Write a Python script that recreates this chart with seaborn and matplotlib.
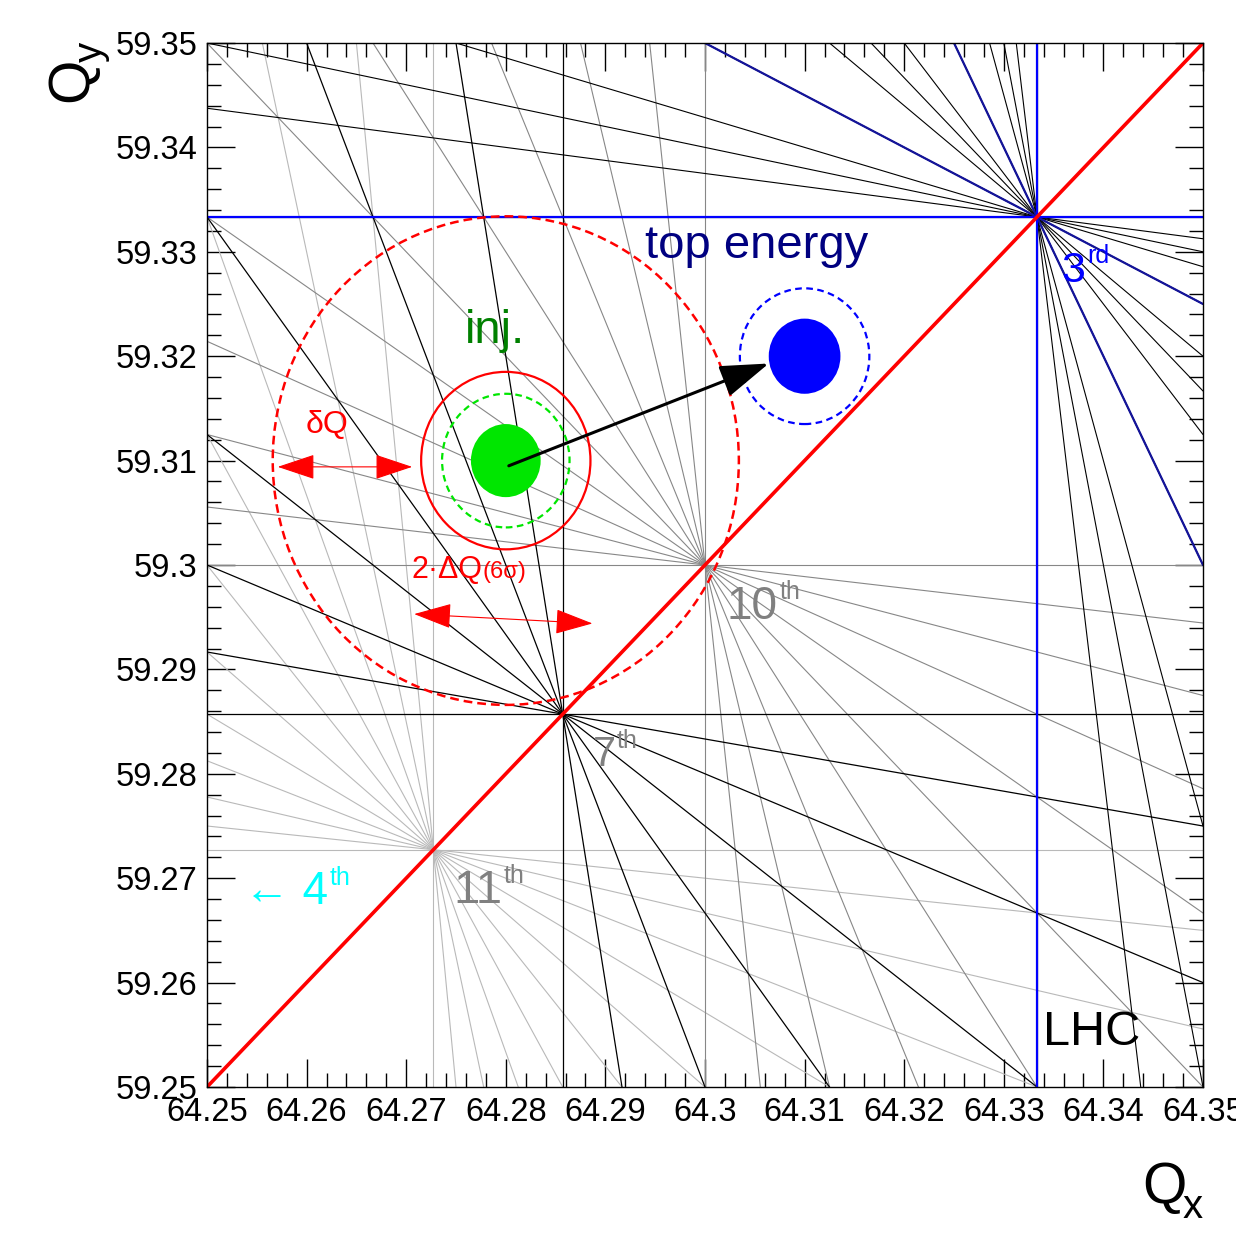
import numpy as np
import pandas as pd
import matplotlib
matplotlib.use('Agg')
import matplotlib.pyplot as plt
import seaborn as sns
from matplotlib.patches import Circle
from matplotlib.ticker import MultipleLocator, FuncFormatter

# tune window (LHC, integer parts 64 / 59)
qx_lim = (64.25, 64.35)
qy_lim = (59.25, 59.35)

# sum resonances m*Qx + n*Qy = p drawn in this window, faint orders first
orders = [11, 10, 9, 7, 6, 3]
order_colors = {11: '#b9b9b9', 10: '#878787', 9: 'black', 7: 'black', 6: 'black', 3: '#14149a'}
order_lw = {11: 0.8, 10: 0.8, 9: 0.8, 7: 0.9, 6: 0.8, 3: 1.6}

# coupling resonance Qx - Qy = 5
coupling = (1, -1, 5)

# working points: injection and top energy
wp_qx = [64.28, 64.31]
wp_qy = [59.31, 59.32]
core_r = [0.0035, 0.0036]
halo_r = [0.0064, 0.0065]
wp_colors = ['#00e600', '#0000ff']
footprint_r = 0.0085   # 2*dQ(6 sigma) footprint around injection
dq_r = 0.0234          # dQ dashed circle

sns.set_theme(style='ticks')
plt.rcParams['font.family'] = ['Liberation Sans', 'DejaVu Sans']
plt.rcParams['axes.linewidth'] = 1.0
plt.rcParams['text.color'] = 'black'
plt.rcParams['xtick.labelcolor'] = 'black'
plt.rcParams['ytick.labelcolor'] = 'black'

# build resonance line segments
rows = []
lid = 0
for N in orders:
    for m in range(N + 1):
        n = N - m
        corners = [m * x + n * y for x in qx_lim for y in qy_lim]
        for p in range(int(np.ceil(min(corners))), int(np.floor(max(corners))) + 1):
            if n == 0:
                xs, ys = [p / m, p / m], list(qy_lim)
            else:
                xs = list(qx_lim)
                ys = [(p - m * x) / n for x in qx_lim]
            kind = 'hv' if (m == 0 or n == 0) else 'slope'
            for x, y in zip(xs, ys):
                rows.append((N, kind, lid, x, y))
            lid += 1
lines = pd.DataFrame(rows, columns=['order', 'kind', 'line', 'Qx', 'Qy'])

fig = plt.figure(figsize=(12.36, 12.34), dpi=100)
ax = fig.add_axes([207 / 1236, 1 - 1087 / 1234, 996 / 1236, 1044 / 1234])

for N in orders:
    sub = lines[lines['order'] == N]
    if N == 3:
        sns.lineplot(data=sub[sub['kind'] == 'slope'], x='Qx', y='Qy', units='line',
                     estimator=None, sort=False, color=order_colors[3], lw=order_lw[3],
                     ax=ax, legend=False)
        sns.lineplot(data=sub[sub['kind'] == 'hv'], x='Qx', y='Qy', units='line',
                     estimator=None, sort=False, color='#0000ff', lw=1.6,
                     ax=ax, legend=False, zorder=3)
    else:
        sns.lineplot(data=sub, x='Qx', y='Qy', units='line', estimator=None, sort=False,
                     color=order_colors[N], lw=order_lw[N], ax=ax, legend=False)

# coupling line
cm, cn, cp = coupling
cx = np.array(qx_lim)
ax.plot(cx, (cm * cx - cp) / (-cn), color='red', lw=2.6, zorder=4)

# working point circles
for x, y, r1, r2, c in zip(wp_qx, wp_qy, core_r, halo_r, wp_colors):
    ax.add_patch(Circle((x, y), r1, color=c, lw=0, zorder=5))
    ax.add_patch(Circle((x, y), r2, fill=False, ec=c, lw=1.6, ls=(0, (3, 2)), zorder=5))
ax.add_patch(Circle((wp_qx[0], wp_qy[0]), footprint_r, fill=False, ec='red', lw=1.6, zorder=5))
ax.add_patch(Circle((wp_qx[0], wp_qy[0]), dq_r, fill=False, ec='red', lw=1.8,
                    ls=(0, (3.5, 2)), zorder=5))

# injection -> top energy arrow
ax.annotate('', xy=(64.3064, 59.3193), xytext=(64.2803, 59.3095),
            arrowprops=dict(arrowstyle='-|>,head_length=3.0,head_width=1.0',
                            mutation_scale=10, lw=2.2, color='black',
                            shrinkA=0, shrinkB=0), zorder=6)

# dQ arrows
red_arrow = dict(arrowstyle='<|-|>,head_length=2.4,head_width=0.8', mutation_scale=10,
                 lw=0.8, color='red', shrinkA=0, shrinkB=0)
ax.annotate('', xy=(64.2706, 59.3094), xytext=(64.2571, 59.3094), arrowprops=red_arrow, zorder=6)
ax.annotate('', xy=(64.2887, 59.2944), xytext=(64.2708, 59.2953), arrowprops=red_arrow, zorder=6)


def sup_label(x, y, base, sup, color, size):
    t = ax.text(x, y, base, color=color, fontsize=size, ha='left', va='baseline', zorder=7)
    ax.annotate(sup, xy=(1, 0), xycoords=t, xytext=(1, 0.21 * size + 0.44 * size),
                textcoords='offset points', color=color, fontsize=18,
                ha='left', va='baseline', zorder=7)


ax.text(64.3052, 59.3294, 'top energy', color='#000080', fontsize=34,
        ha='center', va='baseline', zorder=7)
ax.text(64.2789, 59.3213, 'inj.', color='#008000', fontsize=34,
        ha='center', va='baseline', zorder=7)
ax.text(64.2599, 59.3126, 'δQ', color='red', fontsize=23, ha='left', va='baseline', zorder=7)
t2 = ax.text(64.2705, 59.2988, '2·ΔQ', color='red', fontsize=22, ha='left', va='baseline', zorder=7)
ax.annotate('(6σ)', xy=(1, 0), xycoords=t2, xytext=(0.5, 0.21 * 22),
            textcoords='offset points', color='red', fontsize=17,
            ha='left', va='baseline', zorder=7)
sup_label(64.3358, 59.3271, '3', 'rd', '#0000ff', 31)
sup_label(64.3022, 59.2948, '10', 'th', '#808080', 33)
sup_label(64.2887, 59.2807, '7', 'th', '#808080', 30)
sup_label(64.2747, 59.2676, '11', 'th', '#808080', 34)
sup_label(64.2537, 59.2675, '← 4', 'th', '#00ffff', 33)
ax.text(64.3339, 59.2540, 'LHC', color='black', fontsize=35, ha='left', va='baseline', zorder=7)

ax.set_xlim(qx_lim)
ax.set_ylim(qy_lim)
ax.set_xlabel('')
ax.set_ylabel('')
for axis in (ax.xaxis, ax.yaxis):
    axis.set_major_locator(MultipleLocator(0.01))
    axis.set_minor_locator(MultipleLocator(0.002))
    axis.set_major_formatter(FuncFormatter(lambda v, _: f'{v:g}'))
ax.tick_params(which='both', direction='in', top=True, right=True, width=1,
               color='black', labelcolor='black', labelsize=23.5, pad=7)
ax.tick_params(which='major', length=20)
ax.tick_params(which='minor', length=10)
for s in ax.spines.values():
    s.set_color('black')
    s.set_linewidth(1.0)
    s.set_zorder(8)

# axis titles, ROOT style
fig.text(0.9239, 0.0251, 'Q', fontsize=41, color='black', ha='left', va='baseline')
fig.text(0.9571, 0.0130, 'x', fontsize=29, color='black', ha='left', va='baseline')
fig.text(0.0704, 0.9173, 'Q', fontsize=41, color='black', rotation=90,
         rotation_mode='anchor', ha='left', va='baseline')
fig.text(0.0825, 0.9498, 'y', fontsize=29, color='black', rotation=90,
         rotation_mode='anchor', ha='left', va='baseline')

fig.savefig('out.png', dpi=100, facecolor='white')
